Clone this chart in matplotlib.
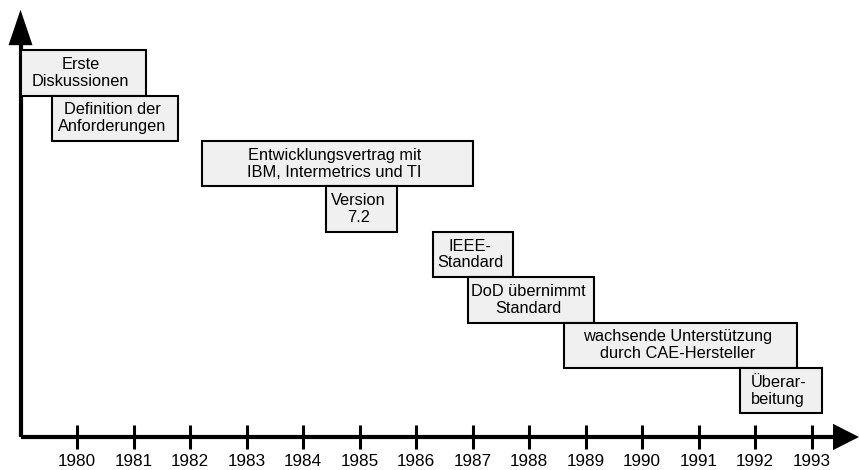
import matplotlib.pyplot as plt
from matplotlib.patches import Rectangle

plt.rcParams['font.family'] = ['Liberation Sans', 'DejaVu Sans']

# Zeitleiste: Start, Ende (Jahr), Zeile von oben
labels = ['Erste\nDiskussionen',
          'Definition der\nAnforderungen',
          'Entwicklungsvertrag mit\nIBM, Intermetrics und TI',
          'Version\n7.2',
          'IEEE-\nStandard',
          'DoD übernimmt\nStandard',
          'wachsende Unterstützung\ndurch CAE-Hersteller',
          'Überar-\nbeitung']
starts = [1979.0, 1979.56, 1982.21, 1984.41, 1986.30, 1986.92, 1988.62, 1991.73]
ends = [1981.22, 1981.79, 1987.0, 1985.66, 1987.72, 1989.15, 1992.74, 1993.19]
rows = [0, 1, 2, 3, 4, 5, 6, 7]
years = list(range(1980, 1994))

fig = plt.figure(figsize=(8.59, 4.70), dpi=100)
ax = fig.add_axes([0, 0, 1, 1])
ax.set_xlim(1978.637, 1993.84)
ax.set_ylim(-0.727, 9.625)
ax.axis('off')

# Kästen
for lab, s, e, r in zip(labels, starts, ends, rows):
    bottom = 7.52 - r
    ax.add_patch(Rectangle((s, bottom), e - s, 1.0, facecolor='#f0f0f0',
                           edgecolor='black', linewidth=1.5, zorder=2))
    ax.text((s + e) / 2 - 0.05, bottom + 0.5, lab, ha='center', va='center',
            fontsize=11.8, linespacing=1.15, zorder=3)

# Achsen
ax.plot([1979.0, 1993.4], [0, 0], color='black', lw=3, solid_capstyle='butt', zorder=1)
ax.plot([1979.0, 1979.0], [0, 8.65], color='black', lw=3, solid_capstyle='butt', zorder=1)
ax.plot([1979.0, 1979.0], [0, 0], color='black', lw=3, solid_capstyle='projecting')
ax.fill([1993.38, 1993.84, 1993.38], [0.29, 0, -0.29], color='black', lw=0)
ax.fill([1979.0 - 0.212, 1979.0, 1979.0 + 0.212], [8.63, 9.41, 8.63], color='black', lw=0)

# Jahresmarken
ax.vlines(years, -0.26, 0.26, color='black', lw=2.2)
for y in years:
    ax.text(y, -0.55, str(y), ha='center', va='center', fontsize=12.3)

fig.savefig('out.png', dpi=100)
